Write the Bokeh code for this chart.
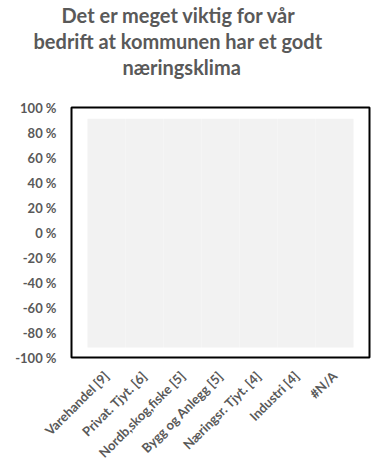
from bokeh.plotting import figure
from bokeh.models import FactorRange, Range1d, FixedTicker, PrintfTickFormatter, Title
from bokeh.embed import file_html
from bokeh.resources import INLINE
import math

categories = ["Varehandel [9]", "Privat. Tjyt. [6]", "Nordb,skog,fiske [5]", "Bygg og Anlegg [5]",
              "Næringsr. Tjyt. [4]", "Industri [4]", "#N/A"]
band_top = [91, 91, 91, 91, 91, 91, 91]
band_bottom = [-92, -92, -92, -92, -92, -92, -92]
y_ticks = [-100, -80, -60, -40, -20, 0, 20, 40, 60, 80, 100]
title_lines = ["Det er meget viktig for vår", "bedrift at kommunen  har et godt", "næringsklima"]

W, H = 378, 469
FL, FR, FT, FB = 71, 369, 106, 358
p = figure(width=W, height=H, output_backend="svg", toolbar_location=None, title=None,
           x_range=FactorRange(*categories, range_padding=0.12),
           y_range=Range1d(-100, 100),
           min_border_left=FL, min_border_right=W - FR, min_border_top=FT, min_border_bottom=H - FB)

p.vbar(x=categories, top=band_top, bottom=band_bottom, width=1.0,
       fill_color="#F2F2F2", line_color=None)

p.outline_line_color = "black"
p.outline_line_width = 2
p.xgrid.grid_line_color = None
p.ygrid.grid_line_color = None
p.background_fill_color = "white"

# blank spacer between the frame and the title block
p.add_layout(Title(text=" ", standoff=15, text_font="Lato", text_font_size="10px"), "above")
# titles stack outward from the frame: add last line first
title_offsets = [51, -38, -10]
for t, o in zip(reversed(title_lines), title_offsets):
    p.add_layout(Title(text=t, align="left", offset=o, standoff=0,
                       text_font="Lato", text_font_style="bold", text_font_size="20px",
                       text_color="#595959"), "above")

p.yaxis.ticker = FixedTicker(ticks=y_ticks)
p.yaxis.formatter = PrintfTickFormatter(format="%d %%")
p.yaxis.axis_line_color = None
p.yaxis.major_tick_line_color = None
p.yaxis.minor_tick_line_color = None
p.yaxis.major_label_text_font = "Lato"
p.yaxis.major_label_text_font_style = "bold"
p.yaxis.major_label_text_font_size = "13px"
p.yaxis.major_label_text_color = "#595959"
p.yaxis.major_label_standoff = 9

p.xaxis.axis_line_color = None
p.xaxis.major_tick_line_color = None
p.xaxis.major_label_orientation = math.pi / 4
p.xaxis.major_label_text_font = "Lato"
p.xaxis.major_label_text_font_style = "bold"
p.xaxis.major_label_text_font_size = "13px"
p.xaxis.major_label_text_color = "#595959"
p.xaxis.major_label_standoff = 10

open("out.html", "w").write(file_html(p, INLINE))
